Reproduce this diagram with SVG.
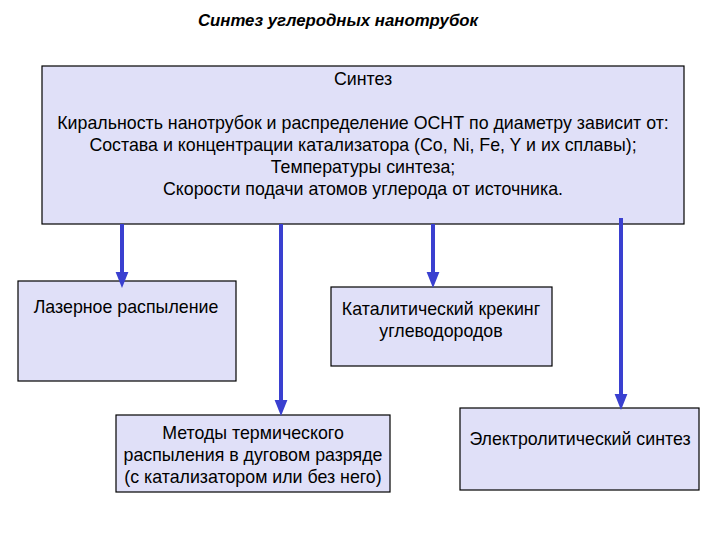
<svg xmlns="http://www.w3.org/2000/svg" width="720" height="540" viewBox="0 0 720 540">
<style>
.b{fill:#e0e0f8;stroke:#000;stroke-width:1.2}
text{font-family:"Liberation Sans",Arial,sans-serif;font-size:17.8px;fill:#000;text-anchor:middle}
.c{stroke:#3a40d0;stroke-width:4;fill:none;marker-end:url(#a)}
</style>
<defs><marker id="a" markerWidth="4" markerHeight="4" refX="2" refY="2" orient="auto" markerUnits="strokeWidth" viewBox="0 0 4 4"><path d="M0,0.4L4,2L0,3.6z" fill="#3a40d0"/></marker></defs>
<rect width="720" height="540" fill="#fff"/>
<text x="338" y="26" style="font-weight:bold;font-style:italic;font-size:16.8px">Синтез углеродных нанотрубок</text>
<g id="main"><rect class="b" x="42" y="66" width="642" height="158"/>
<text x="363" y="85">Синтез</text>
<text x="363" y="129">Киральность нанотрубок и распределение ОСНТ по диаметру зависит от:</text>
<text x="363" y="151">Состава и концентрации катализатора (Co, Ni, Fe, Y и их сплавы);</text>
<text x="363" y="173">Температуры синтеза;</text>
<text x="363" y="195">Скорости подачи атомов углерода от источника.</text></g>
<g id="laser"><rect class="b" x="18" y="281" width="218" height="100"/><text x="126" y="313">Лазерное распыление</text></g>
<g id="cat"><rect class="b" x="331" y="287" width="221" height="79"/><text x="441" y="315">Каталитический крекинг</text><text x="441" y="337">углеводородов</text></g>
<g id="arc"><rect class="b" x="116" y="415" width="274" height="77"/><text x="253" y="439">Методы термического</text><text x="253" y="461">распыления в дуговом разряде</text><text x="253" y="483">(с катализатором или без него)</text></g>
<g id="el"><rect class="b" x="460" y="408" width="239" height="82"/><text x="580" y="445">Электролитический синтез</text></g>
<g id="connectors">
<line class="c" x1="122" y1="224" x2="122" y2="280"/>
<line class="c" x1="281" y1="224" x2="281" y2="408"/>
<line class="c" x1="433" y1="224" x2="433" y2="280"/>
<line class="c" x1="621" y1="218" x2="621" y2="402"/>
</g>
</svg>
